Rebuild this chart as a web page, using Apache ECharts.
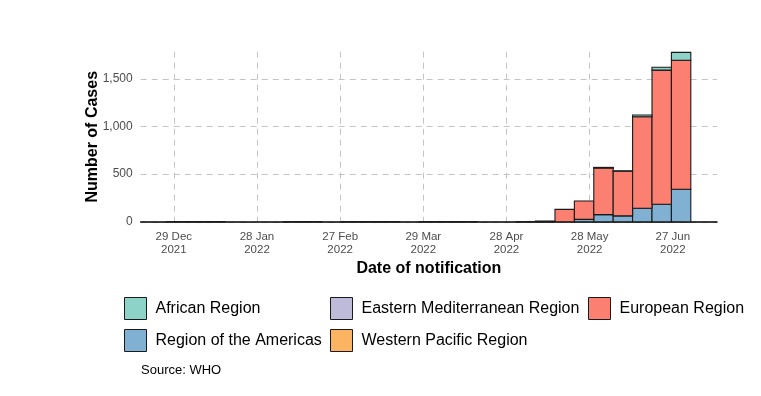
<!DOCTYPE html>
<html>
<head>
<meta charset="utf-8">
<script src="https://cdn.jsdelivr.net/npm/echarts@6/dist/echarts.min.js"></script>
<style>
html,body{margin:0;padding:0;background:#fff;}
#chart{width:761px;height:396px;}
</style>
</head>
<body>
<div id="chart"></div>
<script>
// Week mid-points (Thursday of each notification week)
const weeks = ['2021-12-30','2022-01-06','2022-01-13','2022-01-20','2022-01-27','2022-02-03','2022-02-10',
  '2022-02-17','2022-02-24','2022-03-03','2022-03-10','2022-03-17','2022-03-24','2022-03-31','2022-04-07',
  '2022-04-14','2022-04-21','2022-04-28','2022-05-05','2022-05-12','2022-05-19','2022-05-26','2022-06-02',
  '2022-06-09','2022-06-16','2022-06-23','2022-06-30'];
const african      = [0,0,0,0,0,0,0,0,0,0,0,0,0,0,0,0,0,0,0,0,0,0,3,2,18,30,82];
const eastMed      = [0,0,0,0,0,0,0,0,0,0,0,0,0,0,0,0,0,0,0,0,0,0,3,0,0,0,0];
const european     = [2,2,2,0,0,0,2,2,0,2,2,2,0,2,2,2,0,0,2,8,130,194,490,470,960,1408,1355];
const americas     = [0,0,0,0,0,0,0,0,0,0,0,0,0,0,0,0,0,0,0,0,0,25,75,62,142,184,341];
const westPacific  = [0,0,0,0,0,0,0,0,0,0,0,0,0,0,0,0,0,0,0,0,0,0,0,0,0,0,0];
const tickDates  = ['2021-12-29','2022-01-28','2022-02-27','2022-03-29','2022-04-28','2022-05-28','2022-06-27'];
const tickLabels = ['29 Dec\n2021','28 Jan\n2022','27 Feb\n2022','29 Mar\n2022','28 Apr\n2022','28 May\n2022','27 Jun\n2022'];
const binDays = 7;

const origin = Date.parse('2021-12-29');
const dayOf = s => (Date.parse(s) - origin) / 86400000;
const xs = weeks.map(dayOf);
const tickVals = tickDates.map(dayOf);
const lo = xs[0] - binDays / 2, hi = xs[xs.length - 1] + binDays / 2, pad = 0.05 * (hi - lo);

const colors = {
  'African Region': '#8DD3C7',
  'Eastern Mediterranean Region': '#BEBADA',
  'European Region': '#FB8072',
  'Region of the Americas': '#80B1D3',
  'Western Pacific Region': '#FDB462'
};
// bottom to top stacking order
const stackOrder = [
  ['Western Pacific Region', westPacific],
  ['Region of the Americas', americas],
  ['European Region', european],
  ['Eastern Mediterranean Region', eastMed],
  ['African Region', african]
];

const base = xs.map(() => 0);
const series = stackOrder.map(([name, vals]) => {
  const data = [];
  vals.forEach((v, i) => {
    if (v > 0) data.push([xs[i], base[i], base[i] + v]);
    base[i] += v;
  });
  const color = colors[name];
  return {
    name: name,
    type: 'custom',
    itemStyle: { color: color, borderColor: '#1a1a1a', borderWidth: 1 },
    encode: { x: 0, y: [1, 2] },
    renderItem: function (params, api) {
      const x = api.value(0);
      const p0 = api.coord([x - binDays / 2, api.value(1)]);
      const p1 = api.coord([x + binDays / 2, api.value(2)]);
      return {
        type: 'rect',
        shape: { x: p0[0], y: p1[1], width: p1[0] - p0[0], height: p0[1] - p1[1] },
        style: { fill: color, stroke: '#1a1a1a', lineWidth: 1.1 }
      };
    },
    data: data
  };
});

const legendCommon = {
  orient: 'vertical', icon: 'rect', itemWidth: 22, itemHeight: 22, itemGap: 9,
  top: 297, padding: 0, selectedMode: false,
  itemStyle: { borderColor: '#1a1a1a', borderWidth: 1 },
  textStyle: { fontFamily: 'Liberation Sans', fontSize: 16, color: '#000', padding: [0, 0, 0, 4] }
};

const chart = echarts.init(document.getElementById('chart'), null, { renderer: 'canvas' });
chart.setOption({
  animation: false,
  backgroundColor: '#fff',
  textStyle: { fontFamily: 'Liberation Sans' },
  title: {
    text: 'Source: WHO', left: 141, top: 364, padding: 0,
    textStyle: { fontFamily: 'Liberation Sans', fontSize: 13, fontWeight: 'normal', color: '#000' }
  },
  legend: [
    Object.assign({}, legendCommon, { left: 124, data: ['African Region', 'Region of the Americas'] }),
    Object.assign({}, legendCommon, { left: 330, data: ['Eastern Mediterranean Region', 'Western Pacific Region'] }),
    Object.assign({}, legendCommon, { left: 588, data: ['European Region'] })
  ],
  grid: { left: 140.7, right: 44, top: 51.7, bottom: 174.2, containLabel: false },
  xAxis: {
    type: 'value',
    min: lo - pad, max: hi + pad,
    offset: 3,
    name: 'Date of notification',
    nameLocation: 'middle', nameGap: 36,
    nameTextStyle: { fontFamily: 'Liberation Sans', fontSize: 16, fontWeight: 'bold', color: '#000' },
    axisLine: { show: true, lineStyle: { color: '#000', width: 1.5 } },
    axisTick: { show: false, customValues: tickVals },
    axisLabel: {
      customValues: tickVals,
      formatter: v => tickLabels[tickVals.indexOf(v)],
      fontSize: 11.5, lineHeight: 13.5, color: '#4d4d4d', margin: 5,
      fontFamily: 'Liberation Sans'
    },
    splitLine: { show: true, lineStyle: { color: '#c4c4c4', type: [6, 5], width: 1 } }
  },
  yAxis: {
    type: 'value',
    min: 0, max: 1785, interval: 500,
    name: 'Number of Cases',
    nameLocation: 'middle', nameGap: 40, nameRotate: 90, nameMoveOverlap: false,
    nameTextStyle: { fontFamily: 'Liberation Sans', fontSize: 16, fontWeight: 'bold', color: '#000' },
    axisLine: { show: false },
    axisTick: { show: false },
    axisLabel: {
      showMaxLabel: false,
      formatter: v => v.toLocaleString('en-US'),
      fontSize: 12, color: '#4d4d4d', margin: 8, fontFamily: 'Liberation Sans'
    },
    splitLine: { show: true, showMaxLine: false, lineStyle: { color: '#c4c4c4', type: [6, 5], width: 1 } }
  },
  series: series
});
</script>
</body>
</html>
